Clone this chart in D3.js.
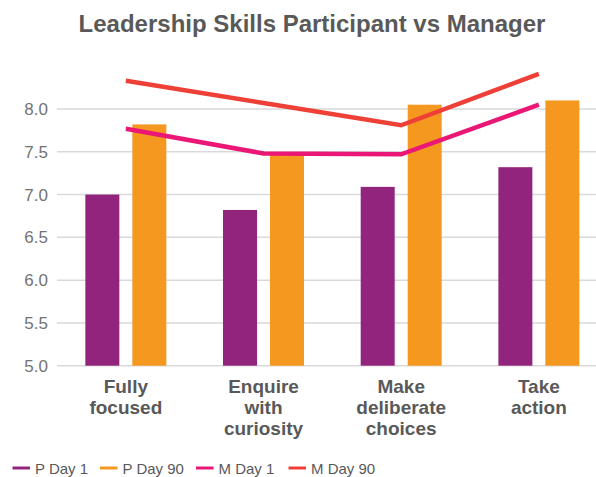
<!DOCTYPE html>
<html><head><meta charset="utf-8">
<script src="https://cdn.jsdelivr.net/npm/d3@7/dist/d3.min.js"></script>
<style>body{margin:0;background:#fff;}svg{display:block;font-family:"Liberation Sans",Arial,sans-serif;}</style>
</head><body><svg id="c" width="596" height="477"></svg>
<script>
const categories = [["Fully","focused"],["Enquire","with","curiosity"],["Make","deliberate","choices"],["Take","action"]];
const pDay1 = [7.0, 6.82, 7.09, 7.32];
const pDay90 = [7.82, 7.47, 8.05, 8.10];
const mDay1 = [7.77, 7.48, 7.47, 8.05];
const mDay90 = [8.33, 8.07, 7.81, 8.41];
const yTicks = [5.0, 5.5, 6.0, 6.5, 7.0, 7.5, 8.0];
const legendNames = ["P Day 1","P Day 90","M Day 1","M Day 90"];
const colors = ["#93247E","#F59820","#EA1776","#EE4036"];

const svg = d3.select("#c");
const idx = d3.range(categories.length);
const x0 = d3.scaleBand().domain(idx).range([57, 607.7]);
const x1 = d3.scaleBand().domain([0,1]).range([(x0.bandwidth()-81)/2,(x0.bandwidth()+81)/2]).paddingInner(0.2766);
const y = d3.scaleLinear().domain([5, 8]).range([365.7, 109]);

// title
svg.append("text").attr("x",312).attr("y",32).attr("text-anchor","middle")
  .attr("font-size",24).attr("font-weight","bold").attr("fill","#595959")
  .text("Leadership Skills Participant vs Manager");

// grid
svg.append("g").selectAll("line").data(yTicks).join("line")
  .attr("x1",57).attr("x2",596).attr("y1",d=>y(d)).attr("y2",d=>y(d))
  .attr("stroke","#D9D9D9").attr("stroke-width",1.5);

// y axis labels
const yAxis = d3.axisLeft(y).tickValues(yTicks).tickFormat(d3.format(".1f")).tickSize(0).tickPadding(0);
const ga = svg.append("g").attr("transform","translate(48,0)").call(yAxis);
ga.select(".domain").remove();
ga.selectAll("text").attr("font-size",17).attr("fill","#737373").attr("font-family","Liberation Sans, Arial, sans-serif");

// bars
const series = [pDay1, pDay90];
series.forEach((s, si) => {
  svg.append("g").selectAll("rect").data(s).join("rect")
    .attr("x",(d,i)=>x0(i)+x1(si)).attr("width",x1.bandwidth())
    .attr("y",d=>y(d)).attr("height",d=>y(5)-y(d))
    .attr("fill",colors[si]);
});

// lines
const line = d3.line().x((d,i)=>x0(i)+x0.bandwidth()/2).y(d=>y(d));
[mDay1, mDay90].forEach((s, si) => {
  svg.append("path").datum(s).attr("d",line).attr("fill","none")
    .attr("stroke",colors[si+2]).attr("stroke-width",4.5).attr("stroke-linejoin","miter");
});

// category labels
const cl = svg.append("g");
categories.forEach((lines,i)=>{
  const t = cl.append("text").attr("x",x0(i)+x0.bandwidth()/2).attr("y",392.5)
    .attr("text-anchor","middle").attr("font-size",19).attr("font-weight","bold").attr("fill","#595959");
  lines.forEach((l,j)=>t.append("tspan").attr("x",x0(i)+x0.bandwidth()/2).attr("dy",j?21:0).text(l));
});

// legend
const legX = [12.5, 100, 196, 288.5];
const lg = svg.append("g");
legendNames.forEach((n,i)=>{
  lg.append("line").attr("x1",legX[i]).attr("x2",legX[i]+17.5).attr("y1",468).attr("y2",468)
    .attr("stroke",colors[i]).attr("stroke-width",3);
  lg.append("text").attr("x",legX[i]+22.5).attr("y",473.5).attr("font-size",15).attr("fill","#595959").text(n);
});
</script></body></html>
